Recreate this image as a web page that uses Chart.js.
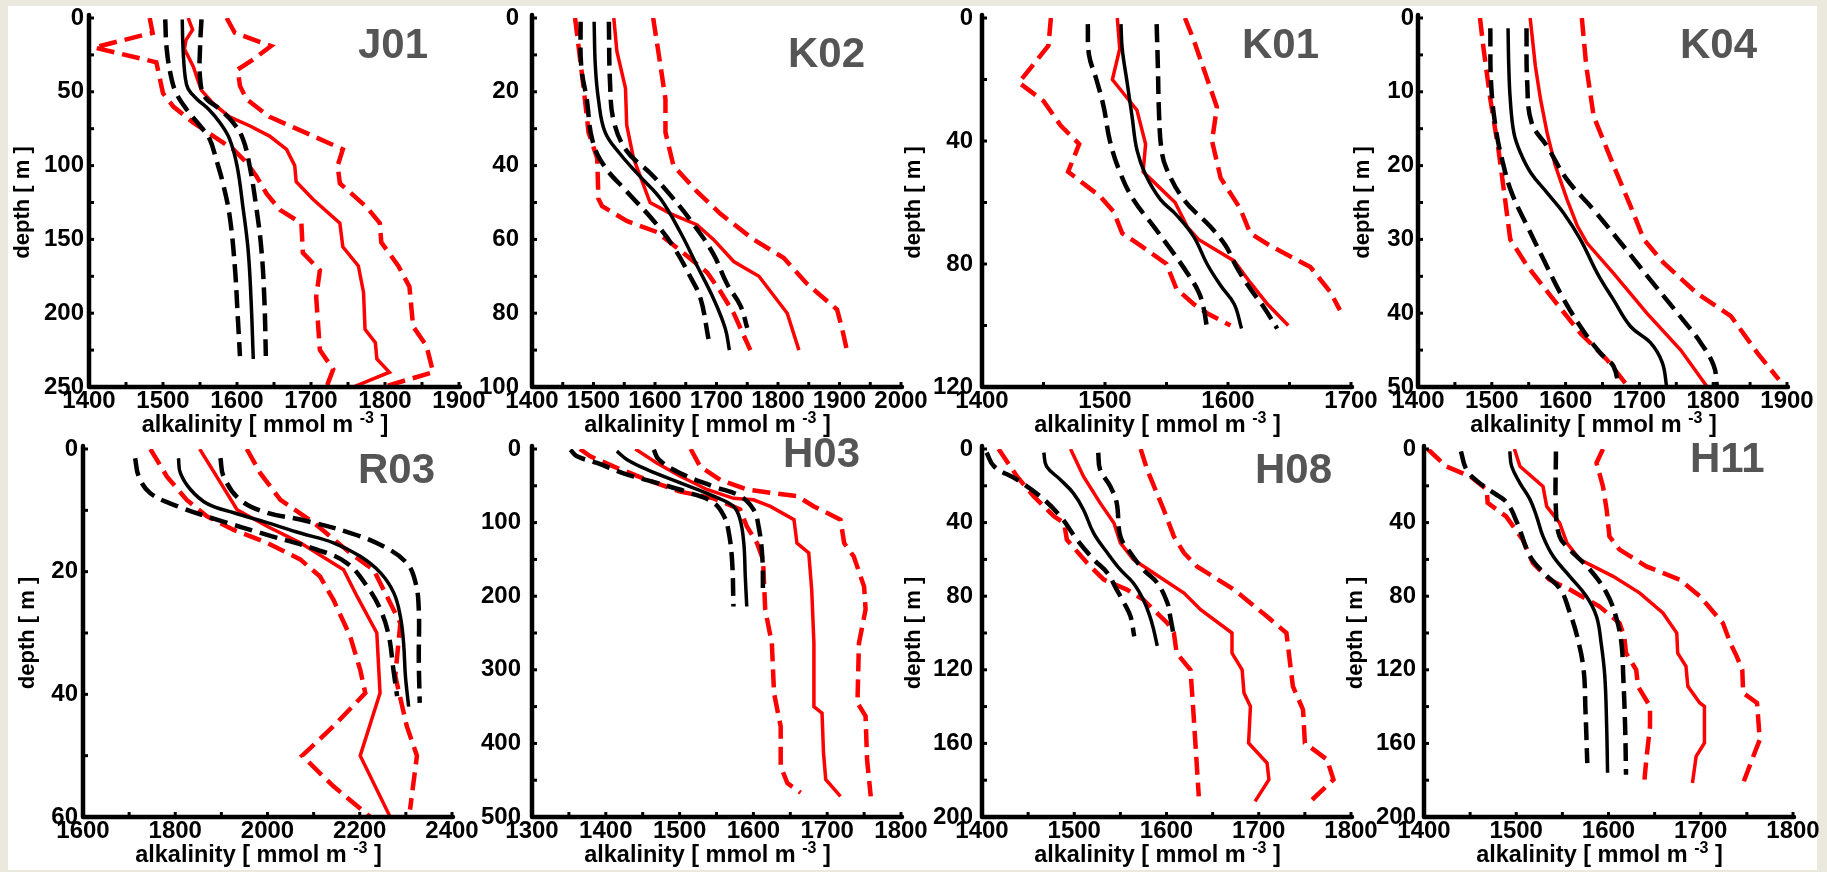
<!DOCTYPE html>
<html><head><meta charset="utf-8">
<script src="https://cdn.jsdelivr.net/npm/chart.js@4.4.1/dist/chart.umd.min.js"></script>
<style>
html,body{margin:0;padding:0;}
body{width:1827px;height:872px;background:#ebe8dd;position:relative;overflow:hidden;}
#sheet{position:absolute;left:8px;top:6px;width:1809px;height:864px;background:#fff;}
canvas{position:absolute;}
</style></head><body><div id="sheet"></div>
<script>
// ---------- data: [depth (m), alkalinity (mmol m-3)] ----------
const J01_black   = [[1,1526],[20,1527],[40,1530],[48,1534],[55,1546],[62,1562],[71,1577],[82,1590],[100,1600],[128,1608],[157,1615],[191,1619],[231,1622]];
const J01_blackLo = [[1,1503],[21,1505],[40,1511],[51,1518],[62,1532],[73,1550],[82,1563],[96,1572],[112,1581],[134,1590],[168,1597],[202,1601],[229,1604]];
const J01_blackHi = [[1,1552],[21,1550],[40,1550],[53,1556],[62,1577],[71,1595],[82,1608],[100,1617],[128,1626],[157,1633],[191,1637],[229,1639]];
const J01_red     = [[0,1534],[8,1540],[15,1531],[21,1529],[33,1541],[42,1547],[49,1552],[58,1568],[67,1590],[73,1617],[80,1644],[89,1667],[100,1678],[111,1680],[123,1703],[139,1739],[155,1743],[168,1764],[186,1771],[211,1773],[220,1787],[231,1789],[240,1806],[250,1757]];
const J01_redLo   = [[0,1482],[10,1486],[20,1407],[30,1491],[51,1500],[60,1514],[71,1541],[80,1568],[89,1595],[98,1613],[107,1626],[119,1640],[130,1658],[139,1687],[159,1689],[171,1712],[189,1707],[225,1712],[238,1730],[250,1721]];
const J01_redHi   = [[0,1586],[10,1597],[19,1646],[28,1622],[35,1601],[46,1604],[55,1613],[67,1644],[78,1694],[89,1743],[100,1736],[112,1739],[128,1775],[139,1793],[152,1795],[168,1818],[182,1833],[209,1838],[222,1856],[240,1865],[250,1797]];

const K02_black   = [[1,1501],[13,1503],[22,1508],[31,1519],[37,1544],[43,1576],[49,1609],[58,1641],[67,1668],[76,1695],[84,1714],[90,1721]];
const K02_blackLo = [[1,1479],[13,1480],[22,1489],[33,1498],[40,1517],[47,1554],[55,1598],[62,1630],[70,1657],[76,1674],[87,1687]];
const K02_blackHi = [[1,1525],[18,1527],[28,1533],[36,1554],[42,1592],[48,1625],[56,1663],[64,1695],[72,1717],[78,1739],[84,1750]];
const K02_red     = [[0,1533],[9,1538],[19,1552],[29,1554],[38,1565],[50,1592],[53,1625],[56,1668],[60,1695],[66,1728],[70,1769],[80,1815],[90,1834]];
const K02_redLo   = [[0,1470],[4,1473],[19,1484],[31,1492],[38,1506],[49,1508],[51,1514],[55,1554],[58,1603],[63,1641],[69,1685],[74,1706],[80,1728],[90,1755]];
const K02_redHi   = [[0,1597],[13,1609],[22,1617],[31,1617],[40,1630],[47,1668],[53,1706],[60,1760],[65,1809],[72,1847],[79,1896],[84,1904],[90,1912]];

const K01_black   = [[2,1513],[10,1514],[21,1518],[32,1522],[43,1526],[51,1533],[59,1545],[64,1558],[71,1572],[80,1583],[87,1594],[93,1605],[101,1611]];
const K01_blackLo = [[2,1486],[12,1487],[20,1493],[29,1499],[40,1504],[50,1512],[59,1523],[68,1540],[75,1553],[83,1567],[89,1576],[94,1580],[101,1583]];
const K01_blackHi = [[2,1542],[16,1543],[32,1544],[43,1546],[49,1550],[59,1564],[68,1586],[74,1598],[81,1607],[88,1618],[94,1629],[101,1640]];
const K01_red     = [[0,1510],[10,1512],[20,1506],[23,1512],[30,1526],[41,1533],[50,1531],[55,1544],[60,1557],[68,1567],[72,1576],[79,1605],[86,1618],[93,1632],[100,1649]];
const K01_redLo   = [[0,1456],[9,1454],[21,1430],[27,1450],[35,1464],[41,1479],[50,1470],[58,1496],[63,1507],[70,1514],[74,1529],[80,1550],[88,1558],[93,1572],[96,1583],[100,1602]];
const K01_redHi   = [[0,1565],[7,1572],[29,1591],[40,1587],[52,1594],[62,1610],[70,1618],[74,1634],[81,1667],[89,1683],[95,1691]];

const K04_black   = [[1.4,1522],[6.5,1523],[11,1525],[15.6,1530],[18.3,1539],[21,1553],[23.7,1575],[26.4,1597],[30,1620],[34.6,1643],[38.2,1665],[41.8,1688],[44,1715],[46.7,1731],[50,1737]];
const K04_blackLo = [[1.4,1498],[8.8,1499],[14.7,1505],[19.2,1514],[23.7,1527],[28.2,1548],[32.7,1570],[37.3,1593],[41.8,1620],[45.4,1647],[47.2,1665],[50,1672]];
const K04_blackHi = [[1.4,1547],[8.8,1548],[14.2,1554],[17.4,1575],[21.9,1602],[26,1638],[31,1679],[36,1719],[40.4,1755],[44,1783],[47.2,1801],[50,1805]];
const K04_red     = [[0,1552],[6.5,1559],[11,1566],[15.6,1575],[20,1586],[24.6,1602],[28.2,1616],[30.5,1629],[34.6,1665],[40,1710],[45,1756],[50,1792]];
const K04_redLo   = [[0,1484],[4.3,1489],[11,1498],[17.8,1509],[24.6,1518],[30,1525],[33.6,1548],[38.2,1584],[42.7,1620],[46.3,1656],[49.5,1681]];
const K04_redHi   = [[0,1622],[6.5,1628],[13.3,1638],[20,1665],[25.5,1688],[30,1706],[33.2,1733],[37.3,1778],[40.4,1824],[45.4,1860],[49,1889]];

const R03_black   = [[1.5,1807],[3.9,1811],[6.6,1833],[8.9,1869],[10.4,1927],[12,1999],[13.7,2071],[15.3,2143],[17.5,2201],[20.2,2245],[23.5,2274],[27.3,2288],[31.6,2295],[37,2299],[42,2306]];
const R03_blackLo = [[1.5,1713],[4.5,1721],[7.2,1746],[9.3,1804],[11.5,1890],[14,1999],[16.4,2107],[18.6,2172],[22.4,2216],[26.2,2245],[30.5,2263],[36,2273],[40.3,2281]];
const R03_blackHi = [[1.5,1898],[4.5,1905],[8.3,1941],[10.4,1999],[11.5,2071],[13.7,2180],[15.9,2252],[18.6,2302],[21.8,2321],[26.2,2328],[34.3,2328],[41.4,2330]];
const R03_red     = [[0,1853],[4.5,1890],[9.9,1934],[12.6,1999],[15.3,2071],[19.7,2165],[24,2194],[30,2237],[39.8,2244],[50,2201],[60,2266]];
const R03_redLo   = [[0,1746],[4.5,1782],[8.3,1825],[11,1869],[13.2,1927],[15.3,1999],[18,2071],[20.8,2114],[24.6,2143],[30.5,2179],[36,2201],[39.8,2212],[45.2,2143],[50,2075],[55,2143],[60,2223]];
const R03_redHi   = [[0,1955],[3.9,1984],[8.3,2028],[12,2100],[17,2180],[19.7,2230],[28.4,2288],[37,2277],[45.2,2302],[50,2324],[58.8,2309]];

const H03_black   = [[3,1415],[14.5,1429],[28,1456],[46,1501],[64,1546],[78,1573],[96,1582],[128,1587],[173,1589],[214,1591]];
const H03_blackLo = [[1,1352],[10,1361],[19,1388],[33,1424],[46,1469],[60,1515],[73,1546],[91,1560],[110,1566],[150,1571],[214,1573]];
const H03_blackHi = [[1,1465],[14.5,1472],[33,1501],[51,1546],[64,1582],[82,1600],[105,1607],[146,1612],[196,1613]];
const H03_red     = [[0,1440],[19,1469],[37,1501],[55,1537],[67,1573],[69,1600],[78,1623],[96,1655],[128,1659],[141,1675],[191,1679],[264,1682],[350,1682],[359,1693],[413,1695],[449,1698],[472,1718]];
const H03_redLo   = [[0,1365],[10,1379],[24,1411],[42,1456],[58,1501],[67,1546],[82,1582],[105,1591],[128,1605],[150,1613],[218,1616],[264,1625],[332,1628],[377,1637],[431,1637],[454,1646],[467,1664]];
const H03_redHi   = [[0,1515],[24,1528],[42,1555],[55,1591],[60,1627],[64,1659],[78,1682],[96,1718],[128,1723],[146,1736],[187,1750],[218,1752],[264,1743],[345,1741],[363,1752],[422,1754],[472,1759]];

const H08_black   = [[2,1467],[9.4,1470],[16.7,1485],[24,1499],[33,1510],[45.7,1521],[56.5,1536],[65.6,1550],[72.8,1564],[82,1575],[91,1582],[98,1586],[107,1590]];
const H08_blackLo = [[2,1405],[9.4,1413],[16.7,1438],[25.7,1463],[36.6,1485],[49.3,1503],[60,1521],[67.4,1536],[76.4,1546],[83.7,1554],[91,1561],[101.8,1565]];
const H08_blackHi = [[2,1526],[11.2,1528],[20.3,1539],[29.3,1546],[47.5,1550],[56.5,1561],[65.6,1575],[72.8,1590],[83.7,1601],[91,1604],[101.8,1608]];
const H08_red     = [[0,1496],[14.9,1510],[29.3,1528],[40.2,1543],[51,1550],[60,1564],[67.4,1586],[78.3,1619],[87.3,1637],[100,1671],[110.9,1671],[120,1682],[132.6,1684],[139.9,1691],[159.8,1689],[170.7,1709],[179.7,1711],[191.5,1696]];
const H08_redLo   = [[0,1418],[14.9,1438],[25.7,1456],[36.6,1478],[40.2,1489],[49.3,1492],[62,1514],[71,1532],[76.4,1557],[81.9,1575],[94.6,1601],[100,1608],[110.9,1611],[120,1626],[141.7,1629],[188.8,1635]];
const H08_redHi   = [[0,1572],[11.2,1579],[33,1597],[47.5,1608],[56.5,1619],[63.8,1633],[76.4,1673],[91,1709],[100,1730],[129,1737],[141.7,1748],[159.8,1750],[168.8,1774],[179.7,1781],[191.5,1756]];

const H11_black   = [[1.3,1493],[9.4,1495],[18.5,1504],[27.5,1515],[36.6,1522],[47.5,1529],[58.3,1540],[69.2,1558],[80,1576],[91,1587],[105.4,1592],[123.6,1596],[150.7,1598],[176,1599]];
const H11_blackLo = [[1.3,1440],[11.2,1446],[17.6,1458],[24,1476],[29.3,1490],[40.2,1501],[58.3,1515],[67.4,1530],[76.4,1548],[87.3,1557],[101.8,1566],[119.9,1573],[141.7,1575],[170.7,1577]];
const H11_blackHi = [[1.3,1543],[33,1543],[47.5,1547],[54.7,1558],[65.6,1580],[78.3,1598],[91,1608],[105.4,1614],[123.6,1616],[150.7,1618],[177,1619]];
const H11_red     = [[0,1498],[9.4,1504],[20.3,1529],[31.2,1533],[40.2,1547],[51.1,1555],[60.1,1569],[69.2,1605],[78.3,1634],[89.1,1659],[100,1674],[110.9,1675],[118.1,1684],[129,1686],[138,1699],[139.9,1704],[159.8,1704],[167,1695],[181.5,1691]];
const H11_redLo   = [[0,1404],[9.4,1424],[14.9,1450],[22,1468],[29.3,1469],[36.6,1489],[49.3,1507],[62,1518],[71,1536],[76.4,1558],[85.5,1590],[94.6,1612],[101.8,1617],[110.9,1619],[120,1630],[129,1632],[139.9,1645],[150.7,1645],[168.8,1641],[179.7,1639]];
const H11_redHi   = [[0,1594],[7.6,1587],[20.3,1594],[33,1598],[47.5,1601],[54.7,1612],[63.8,1641],[71,1677],[80,1699],[94.6,1724],[105.4,1732],[112.7,1739],[120,1745],[132.6,1746],[138,1761],[158,1764],[167,1757],[181.5,1746]];

// ---------- axes / labels ----------
const panelNames = ['J01','K02','K01','K04','R03','H03','H08','H11'];
const xMin   = [1400,1400,1400,1400,1600,1300,1400,1400];
const xMax   = [1900,2000,1700,1900,2400,1800,1800,1800];
const xStep  = [100,100,100,100,200,100,100,100];
const yMax   = [250,100,120,50,60,500,200,200];
const yStep  = [50,20,40,10,20,100,40,40];
const xTitle = 'alkalinity [ mmol m ';
const xTitleSup = '-3';
const xTitleEnd = ' ]';
const yTitle = 'depth [ m ]';
const hasYTitle = [true,false,true,true,true,false,true,true];

const seriesByPanel = [
  [J01_black,J01_blackLo,J01_blackHi,J01_red,J01_redLo,J01_redHi],
  [K02_black,K02_blackLo,K02_blackHi,K02_red,K02_redLo,K02_redHi],
  [K01_black,K01_blackLo,K01_blackHi,K01_red,K01_redLo,K01_redHi],
  [K04_black,K04_blackLo,K04_blackHi,K04_red,K04_redLo,K04_redHi],
  [R03_black,R03_blackLo,R03_blackHi,R03_red,R03_redLo,R03_redHi],
  [H03_black,H03_blackLo,H03_blackHi,H03_red,H03_redLo,H03_redHi],
  [H08_black,H08_blackLo,H08_blackHi,H08_red,H08_redLo,H08_redHi],
  [H11_black,H11_blackLo,H11_blackHi,H11_red,H11_redLo,H11_redHi]
];

// ---------- layout (styles only) ----------
const plotRects = [[89,18,459,387],[532,18,901,387],[982,18,1351,387],[1418,18,1787,387],
                   [83,449,452,817],[532,449,901,817],[982,449,1351,817],[1424,449,1793,817]];
const yLabelPad = [5,13,9,4,5,11,9,8];
const yTitleOff = [66,0,68,55,55,0,68,68];
const nameOff   = [[269,40],[256,49],[260,40],[262,40],[275,34],[251,18],[273,34],[266,23]];
const RED = '#ff0000';
const FONT = '"Liberation Sans", Arial, Helvetica, sans-serif';
const TICK_SIZE = 24;
const seriesStyle = [
  {color:'#000', width:3.5, dash:[], tension:0.4},
  {color:'#000', width:4.5, dash:[18,8], tension:0.4},
  {color:'#000', width:4.5, dash:[18,8], tension:0.4},
  {color:RED, width:3.5, dash:[], tension:0},
  {color:RED, width:4.5, dash:[18,8], tension:0},
  {color:RED, width:4.5, dash:[18,8], tension:0}
];

Chart.defaults.font.family = FONT;
Chart.defaults.font.weight = 'bold';
Chart.defaults.color = '#000';

const padL = 80, padT = 18, padR = 45, padB = 56;

panelNames.forEach((name, i) => {
  const [L,T,R,B] = plotRects[i];
  const cv = document.createElement('canvas');
  cv.width = (R-L)+padL+padR; cv.height = (B-T)+padT+padB;
  cv.style.left = (L-padL)+'px'; cv.style.top = (T-padT)+'px';
  cv.style.width = cv.width+'px'; cv.style.height = cv.height+'px';
  document.body.appendChild(cv);

  const deco = {
    id: 'deco'+i,
    afterDatasetsDraw(chart) {
      const c = chart.ctx, a = chart.chartArea, xs = chart.scales.x, ys = chart.scales.y;
      c.save();
      c.strokeStyle = '#000';
      // axis lines
      c.lineWidth = 4.5; c.lineCap = 'round'; c.lineJoin = 'round';
      c.beginPath(); c.moveTo(a.left, a.top-3); c.lineTo(a.left, a.bottom); c.lineTo(a.right+1, a.bottom); c.stroke();
      // inward ticks (major + minor)
      c.lineWidth = 3; c.lineCap = 'butt';
      const xm = xStep[i]/2, ym = yStep[i]/2;
      for (let v = xMin[i]; v <= xMax[i]+1e-6; v += xm) {
        const px = xs.getPixelForValue(v);
        c.beginPath(); c.moveTo(px, a.bottom); c.lineTo(px, a.bottom-5); c.stroke();
      }
      for (let v = 0; v <= yMax[i]+1e-6; v += ym) {
        const py = ys.getPixelForValue(v);
        c.beginPath(); c.moveTo(a.left, py); c.lineTo(a.left+5, py); c.stroke();
      }
      // x title with superscript
      c.fillStyle = '#000';
      c.textBaseline = 'alphabetic';
      c.textAlign = 'left';
      const f1 = 'bold 23.5px '+FONT, f2 = 'bold 16px '+FONT;
      c.font = f1; const w1 = c.measureText(xTitle).width, w3 = c.measureText(xTitleEnd).width;
      c.font = f2; const w2 = c.measureText(xTitleSup).width;
      const tw = w1+w2+w3;
      let tx = (a.left+a.right)/2 - 9 - tw/2;
      const by = a.bottom + 45;
      c.font = f1; c.fillText(xTitle, tx, by);
      c.font = f2; c.fillText(xTitleSup, tx+w1, by-9);
      c.font = f1; c.fillText(xTitleEnd, tx+w1+w2, by);
      // y title
      if (hasYTitle[i]) {
        c.save();
        c.translate(a.left - yTitleOff[i], (a.top+a.bottom)/2);
        c.rotate(-Math.PI/2);
        c.textAlign = 'center'; c.textBaseline = 'middle';
        c.font = 'bold 22px '+FONT; c.fillText(yTitle, 0, 0);
        c.restore();
      }
      // panel name
      c.fillStyle = '#555555';
      c.font = 'bold 42px '+FONT;
      c.textAlign = 'left'; c.textBaseline = 'alphabetic';
      c.fillText(name, a.left + nameOff[i][0], a.top + nameOff[i][1]);
      c.restore();
    }
  };

  const datasets = seriesByPanel[i].map((s, k) => ({
    data: s.map(p => ({x: p[1], y: p[0]})),
    borderColor: seriesStyle[k].color,
    borderWidth: seriesStyle[k].width,
    borderDash: seriesStyle[k].dash,
    tension: seriesStyle[k].tension,
    pointRadius: 0,
    fill: false
  }));

  new Chart(cv, {
    type: 'line',
    data: { datasets },
    options: {
      responsive: false, animation: false, devicePixelRatio: 1,
      layout: { padding: { left: 0, top: padT, right: padR, bottom: 0 } },
      plugins: { legend: { display: false }, tooltip: { enabled: false } },
      scales: {
        x: {
          type: 'linear', min: xMin[i], max: xMax[i],
          border: { display: false }, grid: { display: false, drawTicks: false },
          ticks: { stepSize: xStep[i], autoSkip: false, maxRotation: 0, padding: 0, color: '#000',
                   font: { size: TICK_SIZE, weight: 'bold' }, callback: v => String(v) },
          afterFit(s) { s.height = padB; s.paddingLeft = 0; s.paddingRight = 0; s.paddingTop = 0; s.paddingBottom = 0; }
        },
        y: {
          type: 'linear', reverse: true, min: 0, max: yMax[i],
          border: { display: false }, grid: { display: false, drawTicks: false },
          ticks: { stepSize: yStep[i], autoSkip: false, padding: yLabelPad[i], color: '#000',
                   font: { size: TICK_SIZE, weight: 'bold' }, callback: v => String(v) },
          afterFit(s) { s.width = padL; s.paddingLeft = 0; s.paddingRight = 0; s.paddingTop = 0; s.paddingBottom = 0; }
        }
      }
    },
    plugins: [deco]
  });
});
</script>
</body></html>
